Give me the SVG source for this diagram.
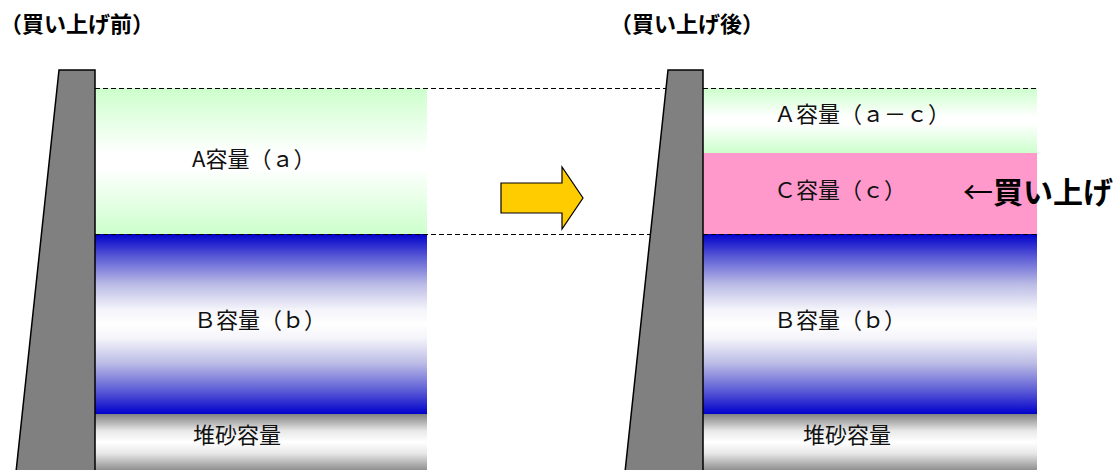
<svg xmlns="http://www.w3.org/2000/svg" width="1118" height="470" viewBox="0 0 1118 470">
<style>
.lbl{font-family:"Noto Sans CJK JP","Noto Sans",sans-serif;font-size:22px;fill:#111}
.ttl{font-family:"Noto Sans CJK JP","Noto Sans",sans-serif;font-size:22px;font-weight:bold;fill:#000}
.big{font-family:"Noto Sans CJK JP","Noto Sans",sans-serif;font-size:30px;font-weight:bold;fill:#000}
.thin{font-weight:normal}
.dam{fill:#808080;stroke:#000;stroke-width:1.5;stroke-linejoin:miter}
.dash{stroke:#000;stroke-width:1;stroke-dasharray:5 3;fill:none}
</style>
<defs>
<linearGradient id="gA" x1="0" y1="0" x2="0" y2="1">
<stop offset="0" stop-color="#CCFFCC"/><stop offset="0.45" stop-color="#FFFFFF"/><stop offset="0.55" stop-color="#FFFFFF"/><stop offset="1" stop-color="#CCFFCC"/>
</linearGradient>
<linearGradient id="gB" x1="0" y1="0" x2="0" y2="1">
<stop offset="0" stop-color="#0000CC"/><stop offset="0.12" stop-color="#5555D5"/><stop offset="0.28" stop-color="#BBBBE6"/><stop offset="0.42" stop-color="#F4F4FA"/><stop offset="0.5" stop-color="#FFFFFF"/><stop offset="0.58" stop-color="#F4F4FA"/><stop offset="0.72" stop-color="#BBBBE6"/><stop offset="0.88" stop-color="#5555D5"/><stop offset="1" stop-color="#0000CC"/>
</linearGradient>
<linearGradient id="gS" x1="0" y1="0" x2="0" y2="1">
<stop offset="0" stop-color="#808080"/><stop offset="0.3" stop-color="#E8E8E8"/><stop offset="0.5" stop-color="#FFFFFF"/><stop offset="0.7" stop-color="#E8E8E8"/><stop offset="1" stop-color="#909090"/>
</linearGradient>
</defs>
<rect width="1118" height="470" fill="#FFFFFF"/>

<g id="title-before"><text class="ttl" x="0" y="32">（買い上げ前）</text></g>
<g id="title-after"><text class="ttl" x="610" y="32">（買い上げ後）</text></g>

<g id="before-A"><rect x="95" y="88" width="332" height="146" fill="url(#gA)"/><text class="lbl" x="192" y="167">A容量（ａ）</text></g>
<g id="before-B"><rect x="95" y="234" width="332" height="180" fill="url(#gB)"/><text class="lbl" x="194" y="328">Ｂ容量（ｂ）</text></g>
<g id="before-S"><rect x="95" y="414" width="332" height="56" fill="url(#gS)"/><text class="lbl" x="193" y="443">堆砂容量</text></g>

<g id="after-A"><rect x="703" y="88" width="334" height="65" fill="url(#gA)"/><text class="lbl" x="774" y="122">Ａ容量（ａ－ｃ）</text></g>
<g id="after-C"><rect x="703" y="153" width="334" height="81" fill="#FF99CC"/><text class="lbl" x="774" y="198">Ｃ容量（ｃ）</text></g>
<g id="after-B"><rect x="703" y="234" width="334" height="180" fill="url(#gB)"/><text class="lbl" x="774" y="328">Ｂ容量（ｂ）</text></g>
<g id="after-S"><rect x="703" y="414" width="334" height="56" fill="url(#gS)"/><text class="lbl" x="803" y="443">堆砂容量</text></g>

<g id="connectors">
<line class="dash" x1="95" y1="88.5" x2="1037" y2="88.5"/>
<line class="dash" x1="95" y1="234.5" x2="1037" y2="234.5"/>
<polygon points="501,183 562,183 562,167 583,198 562,229 562,213 501,213" fill="#FFCC00" stroke="#000" stroke-width="1.2" stroke-linejoin="miter"/>
</g>

<g id="dam-before"><polygon class="dam" points="59,70 95,70 95,472 16,472"/></g>
<g id="dam-after"><polygon class="dam" points="668,70 703,70 703,472 625,472"/></g>

<g id="buyback-label"><text class="big" x="963" y="203"><tspan class="thin">←</tspan>買い上げ</text></g>
</svg>
